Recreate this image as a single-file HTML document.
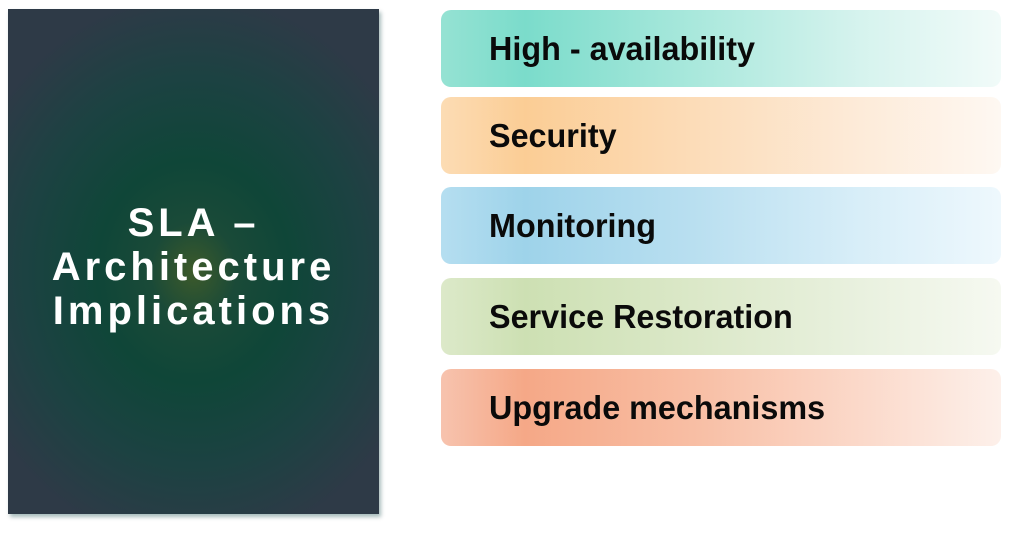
<!DOCTYPE html>
<html><head><meta charset="utf-8"><style>
html,body{margin:0;padding:0;background:#fff;width:1011px;height:545px;overflow:hidden;position:relative;font-family:"Liberation Sans",sans-serif}
.panel{position:absolute;left:8px;top:9px;width:371px;height:505px;
background:radial-gradient(ellipse 65% 55% at 50% 52%,#3d5a2a 0%,#1a4a38 18%,#0f4638 40%,#1c4242 70%,#2e3a47 100%);
box-shadow:2px 3px 4px rgba(0,60,60,0.35)}
.title{position:absolute;left:8px;width:371px;top:201px;text-align:center;color:#fff;font-weight:bold;font-size:40px;letter-spacing:4px;line-height:44px}
.bar{position:absolute;left:441px;width:560px;height:77px;border-radius:10px}
.bar span{position:absolute;left:48px;top:0;line-height:77px;font-weight:bold;font-size:33px;color:#0a0a0a;transform:scaleX(0.98);transform-origin:left center;white-space:nowrap}
</style></head><body>
<div class="panel"></div>
<div class="title">SLA –<br>Architecture<br>Implications</div>
<div class="bar" style="top:10px;background:linear-gradient(90deg,#95e2d3 0%,#7bdccb 15%,#a9e8dc 45%,#d6f3ee 75%,#f1fbf9 100%)"><span>High - availability</span></div>
<div class="bar" style="top:97px;background:linear-gradient(90deg,#fcdcb4 0%,#fbcd95 15%,#fcdcb8 45%,#fdebd9 75%,#fef8f2 100%)"><span>Security</span></div>
<div class="bar" style="top:187px;background:linear-gradient(90deg,#b5def0 0%,#9ed3ea 15%,#b9dff0 45%,#d8eef8 75%,#eef8fd 100%)"><span>Monitoring</span></div>
<div class="bar" style="top:278px;background:linear-gradient(90deg,#dce9c9 0%,#cde0b3 15%,#dbe8c8 45%,#e9f1df 75%,#f6f9f1 100%)"><span>Service Restoration</span></div>
<div class="bar" style="top:369px;background:linear-gradient(90deg,#f7c3ae 0%,#f5a887 15%,#f8bea4 45%,#fbd9ca 75%,#fdf0ea 100%)"><span>Upgrade mechanisms</span></div>
</body></html>
